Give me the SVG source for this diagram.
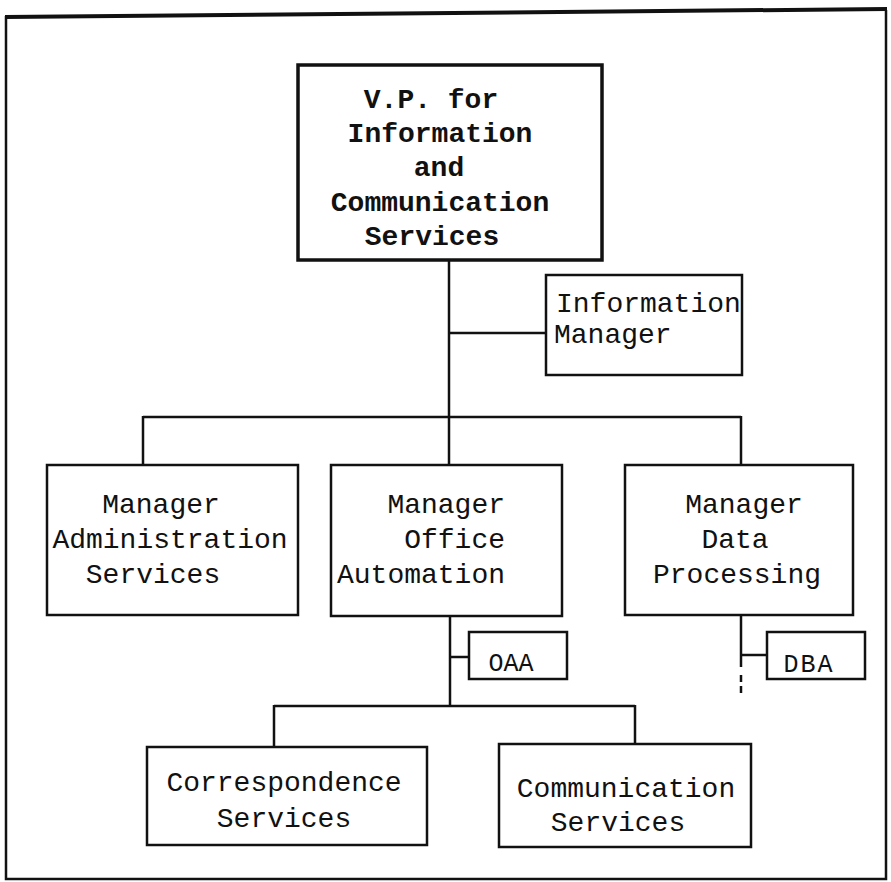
<svg xmlns="http://www.w3.org/2000/svg" width="891" height="882" viewBox="0 0 891 882">
<style>
.box{fill:#fff;stroke:#111;stroke-width:2.5}
.thick{fill:#fff;stroke:#111;stroke-width:3.5}
.t{font-family:"Liberation Mono","DejaVu Sans Mono",monospace;font-size:28px;fill:#111;text-anchor:middle}
.b{font-weight:bold}
.s{font-size:25px}
.ln{stroke:#111;stroke-width:2.5;fill:none}
</style>
<rect width="891" height="882" fill="#fff"/>
<g id="frame">
<path d="M6,16 L6,879 L886,879 L886,10" class="ln"/>
<path d="M5,17 L887,9" stroke="#111" stroke-width="4"/>
</g>
<g id="connectors">
<path class="ln" d="M449,260 V465"/>
<path class="ln" d="M449,333 H546"/>
<path class="ln" d="M143,417 H741"/>
<path class="ln" d="M143,416 V465 M741,416 V465"/>
<path class="ln" d="M450,616 V706"/>
<path class="ln" d="M450,657 H469"/>
<path class="ln" d="M274,706 H635"/>
<path class="ln" d="M274,705 V747 M635,705 V744"/>
<path class="ln" d="M741,615 V667"/>
<path class="ln" d="M741,655 H767"/>
<path class="ln" d="M741,675 V695" stroke-dasharray="7,4"/>
</g>
<g id="vp">
<rect class="thick" x="298" y="65" width="304" height="195"/>
<text class="t b" x="431" y="108">V.P. for</text>
<text class="t b" x="440" y="142">Information</text>
<text class="t b" x="439" y="176">and</text>
<text class="t b" x="440" y="211">Communication</text>
<text class="t b" x="432" y="245">Services</text>
</g>
<g id="info-manager">
<rect class="box" x="546" y="275" width="196" height="100"/>
<text class="t" x="556" y="312" style="text-anchor:start">Information</text>
<text class="t" x="554" y="343" style="text-anchor:start">Manager</text>
</g>
<g id="mgr-admin">
<rect class="box" x="47" y="465" width="251" height="150"/>
<text class="t" x="161" y="513">Manager</text>
<text class="t" x="170" y="548">Administration</text>
<text class="t" x="153" y="583">Services</text>
</g>
<g id="mgr-office">
<rect class="box" x="331" y="465" width="231" height="151"/>
<text class="t" x="505" y="513" style="text-anchor:end">Manager</text>
<text class="t" x="505" y="548" style="text-anchor:end">Office</text>
<text class="t" x="505" y="583" style="text-anchor:end">Automation</text>
</g>
<g id="mgr-data">
<rect class="box" x="625" y="465" width="228" height="150"/>
<text class="t" x="744" y="513">Manager</text>
<text class="t" x="735" y="548">Data</text>
<text class="t" x="737" y="583">Processing</text>
</g>
<g id="oaa">
<rect class="box" x="469" y="632" width="98" height="47"/>
<text class="t s" x="511" y="671">OAA</text>
</g>
<g id="dba">
<rect class="box" x="767" y="632" width="98" height="47"/>
<text class="t s" x="809" y="672" letter-spacing="2">DBA</text>
</g>
<g id="correspondence">
<rect class="box" x="147" y="747" width="280" height="98"/>
<text class="t" x="284" y="791">Correspondence</text>
<text class="t" x="284" y="827">Services</text>
</g>
<g id="communication">
<rect class="box" x="499" y="744" width="252" height="103"/>
<text class="t" x="626" y="797">Communication</text>
<text class="t" x="618" y="831">Services</text>
</g>
</svg>
